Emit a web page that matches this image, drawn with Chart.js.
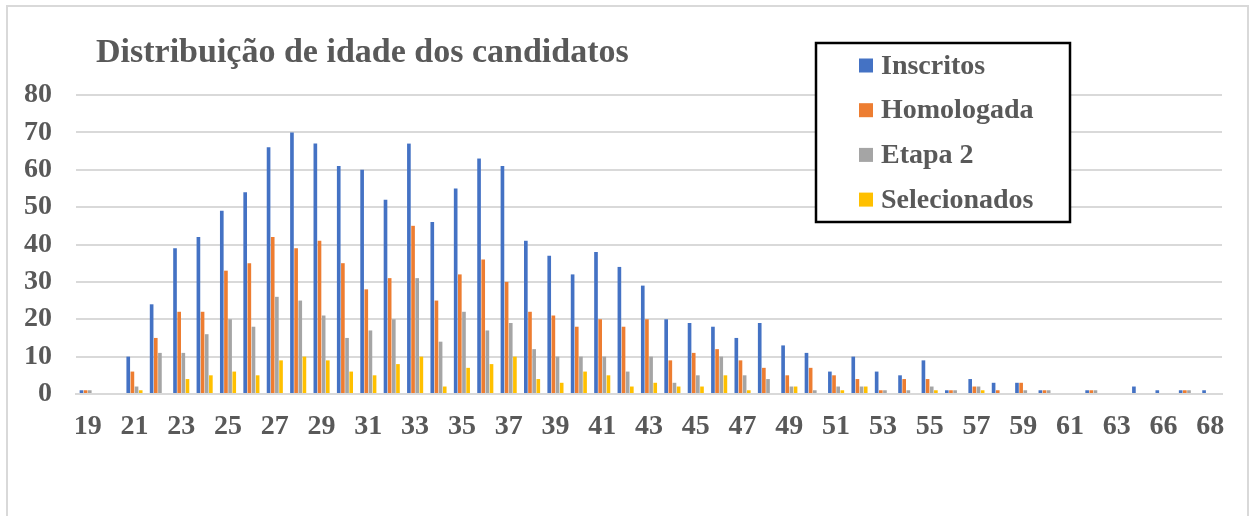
<!DOCTYPE html>
<html>
<head>
<meta charset="utf-8">
<script src="https://cdn.jsdelivr.net/npm/chart.js@4.4.1/dist/chart.umd.min.js"></script>
<style>
  html, body { margin: 0; padding: 0; background: #ffffff; }
  #wrap { position: relative; width: 1250px; height: 516px; }
</style>
</head>
<body>
<div id="wrap"><canvas id="c" width="1250" height="516"></canvas></div>
<script>
const titleText = 'Distribuição de idade dos candidatos';
const ages = ['19','20','21','22','23','24','25','26','27','28','29','30','31','32','33','34','35','36','37','38','39','40','41','42','43','44','45','46','47','48','49','50','51','52','53','54','55','56','57','58','59','60','61','62','63','64','66','67','68'];
const inscritos   = [1,0,10,24,39,42,49,54,66,70,67,61,60,52,67,46,55,63,61,41,37,32,38,34,29,20,19,18,15,19,13,11,6,10,6,5,9,1,4,3,3,1,0,1,0,2,1,1,1];
const homologada  = [1,0,6,15,22,22,33,35,42,39,41,35,28,31,45,25,32,36,30,22,21,18,20,18,20,9,11,12,9,7,5,7,5,4,1,4,4,1,2,1,3,1,0,1,0,0,0,1,0];
const etapa2      = [1,0,2,11,11,16,20,18,26,25,21,15,17,20,31,14,22,17,19,12,10,10,10,6,10,3,5,10,5,4,2,1,2,2,1,1,2,1,2,0,1,1,0,1,0,0,0,1,0];
const selecionados= [0,0,1,0,4,5,6,5,9,10,9,6,5,8,10,2,7,8,10,4,3,6,5,2,3,2,2,5,1,0,2,0,1,2,0,0,1,0,1,0,0,0,0,0,0,0,0,0,0];
const yTicks = [0,10,20,30,40,50,60,70,80];

const TEXT = '#595959';
const FONT = '"Liberation Serif", "Times New Roman", serif';

const decorPlugin = {
  id: 'decor',
  beforeDraw(chart) {
    const ctx = chart.ctx;
    ctx.save();
    ctx.fillStyle = '#ffffff';
    ctx.fillRect(0, 0, chart.width, chart.height);
    ctx.strokeStyle = '#d9d9d9';
    ctx.lineWidth = 2;
    ctx.strokeRect(7, 6, 1241, 530);
    ctx.restore();
  },
  afterDraw(chart) {
    const ctx = chart.ctx;
    ctx.save();
    // title
    ctx.fillStyle = TEXT;
    ctx.font = 'bold 34px ' + FONT;
    ctx.textBaseline = 'alphabetic';
    ctx.textAlign = 'left';
    ctx.fillText(titleText, 96, 62);
    // legend box
    ctx.fillStyle = '#ffffff';
    ctx.fillRect(816, 43, 254, 179);
    ctx.strokeStyle = '#000000';
    ctx.lineWidth = 2.5;
    ctx.strokeRect(816, 43, 254, 179);
    ctx.font = 'bold 28px ' + FONT;
    ctx.textBaseline = 'middle';
    chart.data.datasets.forEach((ds, i) => {
      const cy = 65.5 + i * 44.7;
      ctx.fillStyle = ds.backgroundColor;
      ctx.fillRect(859, cy - 7, 14, 14);
      ctx.fillStyle = TEXT;
      ctx.fillText(ds.label, 881, cy + 1);
    });
    ctx.restore();
  }
};

new Chart(document.getElementById('c'), {
  type: 'bar',
  data: {
    labels: ages,
    datasets: [
      { label: 'Inscritos', data: inscritos, backgroundColor: '#4472C4' },
      { label: 'Homologada', data: homologada, backgroundColor: '#ED7D31' },
      { label: 'Etapa 2', data: etapa2, backgroundColor: '#A5A5A5' },
      { label: 'Selecionados', data: selecionados, backgroundColor: '#FFC000' }
    ]
  },
  options: {
    responsive: false,
    animation: false,
    devicePixelRatio: 1,
    layout: { padding: { left: 0, top: 95, right: 28, bottom: 62 } },
    datasets: { bar: { categoryPercentage: 0.71, barPercentage: 0.88, borderWidth: 0 } },
    plugins: {
      legend: { display: false },
      title: { display: false },
      tooltip: { enabled: false }
    },
    scales: {
      x: {
        grid: { display: false, drawTicks: false },
        border: { display: true, color: '#d9d9d9', width: 2 },
        ticks: {
          autoSkip: false, maxRotation: 0, minRotation: 0, padding: 16,
          color: TEXT, font: { family: FONT, size: 28, weight: 'bold' },
          callback: (v, i) => (i % 2 === 0 ? ages[i] : '')
        },
        afterFit(s) { s.height = 60; }
      },
      y: {
        min: 0, max: 80,
        afterBuildTicks(s) { s.ticks = yTicks.map(v => ({ value: v })); },
        grid: { color: '#d9d9d9', lineWidth: 2, drawTicks: false },
        border: { display: false },
        ticks: {
          padding: 24,
          color: TEXT, font: { family: FONT, size: 28, weight: 'bold' }
        },
        afterFit(s) { s.width = 76; }
      }
    }
  },
  plugins: [decorPlugin]
});
</script>
</body>
</html>
